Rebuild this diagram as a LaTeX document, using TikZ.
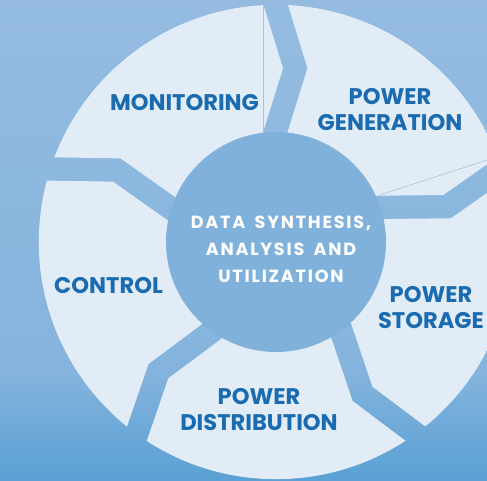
\documentclass[tikz,border=0pt]{standalone}
\usepackage{fontspec}
\setmainfont{Poppins}
\newfontfamily\hubfont{Poppins}[LetterSpace=10,WordSpace=1.7]
\definecolor{segfill}{HTML}{E1ECF6}
\definecolor{hubfill}{HTML}{80B1DA}
\definecolor{labelblue}{HTML}{1A6BAF}
\definecolor{seam}{HTML}{A9C3DE}
\definecolor{bgtop}{HTML}{95BBE1}
\definecolor{bgmid}{HTML}{84B4DD}
\definecolor{bgbot}{HTML}{5AA0D4}
\tikzset{
  segment/.style={fill=segfill},
  seamline/.style={draw=seam, line width=0.6pt},
  hub/.style={fill=hubfill},
  seglabel/.style={text=labelblue, font=\fontsize{22.6}{26}\selectfont\bfseries, align=center, inner sep=0pt},
  hublabel/.style={text=white, font=\hubfont\fontsize{17.6}{27}\selectfont\bfseries, align=center, inner sep=0pt}
}
\begin{document}
\begin{tikzpicture}[x=1pt,y=1pt]
\useasboundingbox (-276,-238) rectangle (211,242);
\clip (-276,-238) rectangle (211,242);
% background
\shade[top color=bgtop, bottom color=bgmid] (-276,-130) rectangle (211,242);
\shade[top color=bgmid, bottom color=bgbot] (-276,-238) rectangle (211,-130);
% segments
\begin{scope}
  \clip (0,0) circle (237.2);
  \foreach \k in {0,...,4}{
    \fill[segment, rotate=-72*\k] (-19.5,260) -- (7,173.7) -- (-28.4,60) -- (0,0)
      -- (-58.3,14.8) -- (-155.5,83.6) -- (-245.7,85.1) -- (-197,252) -- cycle;
  }
\end{scope}
% seams of the arrow tips
\coordinate (s1a) at (-12.7,237);
\coordinate (s1b) at (-12.7,111);
\draw[seamline] (s1a) -- (s1b);
\begin{scope}[rotate=-72]
  \coordinate (s2a) at (-12.7,260);
  \coordinate (s2b) at (-12.7,111);
  \draw[seamline] (s2a) -- (s2b);
\end{scope}
% hub
\fill[hub] (0,0) circle (110);
\node[hublabel] (hubtext) at (5,-7) {DATA SYNTHESIS,\\ANALYSIS AND\\UTILIZATION};
% labels
\node[seglabel] (mon) at (-91.5,139.5) {MONITORING};
\node[seglabel] (gen) at (114,132.5) {POWER\\GENERATION};
\node[seglabel] (sto) at (155,-66) {POWER\\STORAGE};
\node[seglabel] (dis) at (-17,-168) {POWER\\DISTRIBUTION};
\node[seglabel] (con) at (-167.5,-43.5) {CONTROL};
\end{tikzpicture}
\end{document}
